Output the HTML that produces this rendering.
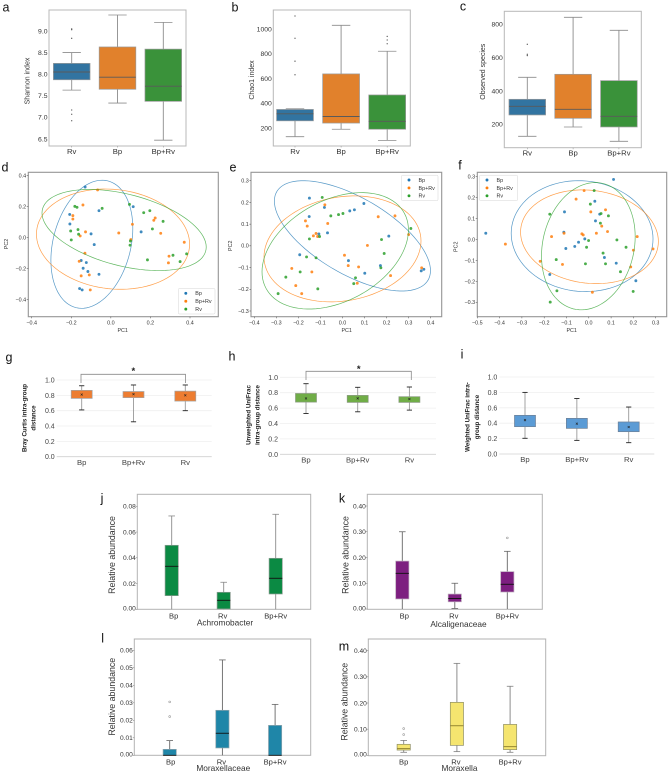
<!DOCTYPE html>
<html lang="en">
<head>
<meta charset="utf-8">
<title>Microbiome diversity figure</title>
<style>
html,body{margin:0;padding:0;background:#fff;}
#figure{display:block;width:669px;height:773px;font-family:"Liberation Sans",sans-serif;filter:blur(0.3px);}
</style>
</head>
<body>
<svg id="figure" xmlns="http://www.w3.org/2000/svg" width="669" height="773" viewBox="0 0 669 773"></svg>
<script>
/* ---------- shared categories ---------- */
var catsRvFirst = ['Rv','Bp','Bp+Rv'];
var catsBpFirst = ['Bp','Bp+Rv','Rv'];
var catsTaxa = ['Bp','Rv','Bp+Rv'];
var legendGroupsDE = ['Bp','Bp+Rv','Rv'];

/* ---------- a: Shannon ---------- */
var aTicks = [6.5,7.0,7.5,8.0,8.5,9.0];
var aLow = [7.63,7.33,6.47];
var aQ1 = [7.87,7.65,7.37];
var aMed = [8.05,7.93,7.72];
var aQ3 = [8.25,8.63,8.58];
var aHigh = [8.50,9.37,9.20];
var aFliers = [[9.05,9.03,8.83,7.17,7.07,6.92],[],[]];

/* ---------- b: Chao1 ---------- */
var bTicks = [200,400,600,800,1000];
var bLow = [130,190,100];
var bQ1 = [258,240,190];
var bMed = [315,293,254];
var bQ3 = [350,637,467];
var bHigh = [355,1030,820];
var bFliers = [[1105,925,740,630],[],[940,911,881]];

/* ---------- c: Observed species ---------- */
var cTicks = [200,400,600,800];
var cLow = [128,184,98];
var cQ1 = [256,236,184];
var cMed = [308,290,248];
var cQ3 = [350,500,462];
var cHigh = [482,842,764];
var cFliers = [[680,620,612],[],[]];

/* ---------- d: PCoA ---------- */
var dXTicks = [-0.4,-0.2,0,0.2,0.4];
var dYTicks = [-0.4,-0.2,0,0.2,0.4];
var dBp = [[-0.13,0.327],[-0.06,0.174],[0.113,0.2],[-0.208,0.15],[-0.207,0.088],[-0.1,0.024],[-0.084,-0.045],[0.153,0.037],[-0.15,-0.148],[-0.124,-0.161],[-0.14,-0.198],[-0.116,-0.219],[-0.06,-0.237],[-0.158,-0.329],[-0.145,-0.338]];
var dBpRv = [[-0.067,0.308],[-0.141,0.211],[-0.192,0.142],[-0.192,0.12],[-0.128,0.037],[-0.155,0.011],[-0.131,-0.101],[-0.16,-0.153],[-0.109,-0.241],[-0.15,-0.247],[-0.104,-0.338],[0.04,0.03],[0.109,0.086],[0.101,-0.013],[0.224,0.127],[0.217,0.112],[0.252,0.028],[0.371,-0.03],[0.294,-0.12],[0.291,-0.163]];
var dRv = [[-0.182,0.202],[-0.171,0.196],[-0.044,0.189],[0.094,0.215],[0.166,0.161],[0.197,0.174],[0.264,0.105],[0.21,0.056],[-0.166,0.052],[-0.203,0.043],[-0.163,0.022],[-0.2,-0.015],[0.099,-0.022],[0.097,-0.049],[0.185,-0.144],[0.314,-0.114],[0.383,-0.105],[0.35,-0.155]];
var dEllipseBp = [-0.096,-0.043,0.207,0.414,0.25];
var dEllipseBpRv = [0.011,-0.01,0.387,0.324,-0.1];
var dEllipseRv = [0.067,0.049,0.415,0.262,-0.42];

/* ---------- e: PCoA ---------- */
var eXTicks = [-0.4,-0.3,-0.2,-0.1,0,0.1,0.2,0.3,0.4];
var eYTicks = [-0.3,-0.2,-0.1,0,0.1,0.2,0.3];
var eBp = [[-0.15,0.22],[-0.151,0.135],[-0.082,0.177],[0.033,0.161],[0.054,0.166],[0.097,0.195],[-0.107,0.055],[-0.068,0.06],[0.21,0.045],[-0.194,-0.041],[0.027,-0.068],[0.172,-0.091],[0.101,-0.126],[0.357,-0.115],[0.369,-0.108]];
var eBpRv = [[-0.08,0.189],[-0.168,0.115],[-0.16,0.091],[-0.067,0.103],[-0.12,0.057],[-0.132,0.046],[-0.113,0.043],[0.162,0.134],[0.238,0.138],[0.3,0.052],[0.113,0.002],[0.009,-0.043],[0.026,-0.091],[0.073,-0.097],[-0.23,-0.104],[-0.139,-0.12],[-0.212,-0.183],[-0.185,-0.22],[0.067,-0.172],[0.218,-0.137],[0.359,-0.101]];
var eRv = [[-0.092,0.223],[-0.053,0.138],[-0.018,0.144],[0.002,0.149],[0.31,0.08],[-0.15,0.032],[-0.104,0.043],[0.177,0.029],[0.189,-0.035],[-0.163,-0.051],[-0.12,-0.055],[0.174,-0.101],[-0.257,-0.144],[-0.192,-0.12],[0.059,-0.147],[0.051,-0.174],[-0.112,-0.198],[-0.292,-0.22]];
var eEllipseBp = [0.045,0.046,0.354,0.254,-0.63];
var eEllipseBpRv = [0,-0.014,0.356,0.244,0.15];
var eEllipseRv = [-0.033,-0.023,0.332,0.268,0.36];

/* ---------- f: PCoA ---------- */
var fXTicks = [-0.5,-0.4,-0.3,-0.2,-0.1,0,0.1,0.2,0.3];
var fYTicks = [-0.3,-0.2,-0.1,0,0.1,0.2,0.3];
var fBp = [[0.111,0.287],[0.027,0.183],[-0.109,0.132],[0.049,0.121],[0.03,0.089],[-0.462,0.03],[-0.112,0.035],[-0.018,0.003],[-0.046,-0.013],[-0.063,-0.033],[-0.103,-0.043],[0.07,-0.086],[0.123,-0.113],[-0.175,-0.167],[0.211,-0.197]];
var fBpRv = [[-0.021,0.234],[-0.057,0.193],[0.009,0.132],[0.075,0.142],[0.058,0.064],[-0.374,-0.022],[-0.167,0.014],[-0.111,0.03],[-0.031,0.027],[-0.025,0.022],[0.034,0.03],[0.084,0.038],[0.217,0.014],[0.2,-0.051],[0.288,-0.045],[0.188,-0.131],[-0.218,-0.104],[-0.118,-0.119],[0.016,-0.252]];
var fRv = [[0.024,0.234],[0.007,0.169],[0.055,0.124],[0.088,0.113],[-0.175,0.121],[0.052,0.078],[-0.001,-0.005],[-0.01,-0.037],[0.126,-0.002],[0.167,-0.037],[0.064,-0.065],[-0.146,-0.096],[-0.015,-0.116],[0.075,-0.116],[0.142,-0.154],[-0.143,-0.245],[-0.173,-0.299],[0.199,-0.248]];
var fEllipseBp = [-0.03,0.016,0.318,0.265,-0.05];
var fEllipseBpRv = [0.003,0.013,0.309,0.224,-0.1];
var fEllipseRv = [-0.002,-0.032,0.21,0.304,0.15];

/* ---------- g/h/i: intra-group distance ---------- */
var distTicks = [0,0.2,0.4,0.6,0.8,1.0];
var gLow = [0.61,0.455,0.60];
var gQ1 = [0.76,0.77,0.725];
var gMean = [0.81,0.815,0.80];
var gQ3 = [0.865,0.85,0.855];
var gHigh = [0.925,0.935,0.935];
var hLow = [0.53,0.552,0.574];
var hQ1 = [0.678,0.674,0.674];
var hMean = [0.725,0.726,0.717];
var hQ3 = [0.79,0.765,0.748];
var hHigh = [0.917,0.87,0.874];
var iLow = [0.204,0.177,0.147];
var iQ1 = [0.355,0.333,0.29];
var iMean = [0.44,0.394,0.35];
var iQ3 = [0.502,0.463,0.416];
var iHigh = [0.80,0.72,0.61];

/* ---------- j: Achromobacter ---------- */
var jTicks = [0,0.02,0.04,0.06,0.08];
var jLow = [0,0,0];
var jQ1 = [0.0106,0.0003,0.0119];
var jMed = [0.0334,0.007,0.0241];
var jQ3 = [0.0497,0.0132,0.0396];
var jHigh = [0.0725,0.021,0.0738];
var jFliers = [[],[],[]];

/* ---------- k: Alcaligenaceae ---------- */
var kTicks = [0,0.1,0.2,0.3,0.4];
var kLow = [0,0.002,0];
var kQ1 = [0.039,0.028,0.066];
var kMed = [0.1385,0.041,0.096];
var kQ3 = [0.186,0.058,0.145];
var kHigh = [0.30,0.10,0.224];
var kFliers = [[],[],[0.276]];

/* ---------- l: Moraxellaceae ---------- */
var lTicks = [0,0.01,0.02,0.03,0.04,0.05,0.06];
var lLow = [0,0,0];
var lQ1 = [0,0.0042,0];
var lMed = [0,0.0126,0];
var lQ3 = [0.0034,0.0257,0.0171];
var lHigh = [0.0084,0.0545,0.0291];
var lFliers = [[0.0305,0.0221],[],[]];

/* ---------- m: Moraxella ---------- */
var mTicks = [0,0.1,0.2,0.3,0.4];
var mLow = [0.0115,0.014,0.0115];
var mQ1 = [0.02,0.038,0.0217];
var mMed = [0.0255,0.113,0.033];
var mQ3 = [0.042,0.2025,0.118];
var mHigh = [0.057,0.3516,0.264];
var mFliers = [[0.079,0.102],[],[]];

/* ---------- helpers ---------- */
var SVGNS = 'http://www.w3.org/2000/svg';
var root = document.getElementById('figure');

function label(el, name, interactive) {
  
  
  return el;
}
function mk(parent, tag, attrs) {
  var el = document.createElementNS(SVGNS, tag);
  for (var k in attrs) { el.setAttribute(k, attrs[k]); }
  parent.appendChild(el);
  return el;
}
function group(name) {
  return label(mk(root, 'g', {}), name);
}
function line(p, name, x1, y1, x2, y2, stroke, w) {
  return label(mk(p, 'line', {x1:x1, y1:y1, x2:x2, y2:y2, stroke:stroke, 'stroke-width':w}), name);
}
function text(p, name, x, y, str, size, o) {
  o = o || {};
  var a = {x:x, y:y + size*0.35, 'font-size':size, fill:o.fill || '#333', 'text-anchor':o.anchor || 'middle'};
  if (o.weight) { a['font-weight'] = o.weight; }
  if (o.rotate) { a.transform = 'rotate(-90 ' + x + ' ' + y + ')'; }
  var t = label(mk(p, 'text', a), name);
  t.textContent = str;
  return t;
}
function linear(v0, p0, v1, p1) {
  return function (v) { return p0 + (v - v0) * (p1 - p0) / (v1 - v0); };
}
function slug(s) {
  return String(s).toLowerCase().replace(/\+/g, '-').replace(/[^a-z0-9-]+/g, '-');
}

/* ---------- seaborn boxplots a,b,c ---------- */
var seabornFill = ['#3274a1','#e1812c','#3a923a'];
function seabornPanel(id, c) {
  var g = group('panel-' + id);
  var y = linear(c.v0, c.p0, c.v1, c.p1);
  var x = function (i) { return c.firstCat + i * c.step; };
  label(mk(g, 'rect', {x:c.left, y:c.top, width:c.right - c.left, height:c.bottom - c.top, fill:'#fff', stroke:'#b8b8b8', 'stroke-width':1}), 'plot-frame');
  c.ticks.forEach(function (t) {
    text(g, 'y-tick-label', c.left - 1.5, y(t), c.fmt(t), 6.8);
    g.lastChild.setAttribute('text-anchor', 'end');
  });
  c.cats.forEach(function (cat, i) {
    var cx = x(i), hw = c.step * 0.4, n = slug(cat);
    line(g, 'whisker-' + n, cx, y(c.high[i]), cx, y(c.q3[i]), '#8c8c8c', 0.9);
    line(g, 'whisker-' + n, cx, y(c.q1[i]), cx, y(c.low[i]), '#8c8c8c', 0.9);
    line(g, 'cap-' + n, cx - hw/2, y(c.high[i]), cx + hw/2, y(c.high[i]), '#8c8c8c', 0.8);
    line(g, 'cap-' + n, cx - hw/2, y(c.low[i]), cx + hw/2, y(c.low[i]), '#8c8c8c', 0.8);
    label(mk(g, 'rect', {x:cx - hw, y:y(c.q3[i]), width:hw*2, height:y(c.q1[i]) - y(c.q3[i]), fill:seabornFill[i], stroke:'#9a9a9a', 'stroke-width':0.7}), 'box-' + n);
    line(g, 'median-' + n, cx - hw, y(c.med[i]), cx + hw, y(c.med[i]), '#5a5a5a', 0.9);
    c.fliers[i].forEach(function (v) {
      label(mk(g, 'circle', {cx:cx, cy:y(v), r:0.65, fill:'#555'}), 'outlier-' + n);
    });
    line(g, 'x-tick', cx, c.bottom, cx, c.bottom + 1.5, '#999', 0.6);
    text(g, 'x-tick-label-' + n, cx, c.labelY, cat, 7.7);
  });
  text(g, 'y-axis-title', c.titleX, c.titleY, c.title, 7, {rotate:true});
}

/* ---------- PCoA scatter d,e,f ---------- */
var groupColor = {Bp:'#1f77b4', 'Bp+Rv':'#ff7f0e', Rv:'#2ca02c'};
function ellipsePath(sx, sy, e) {
  var d = '', delta = Math.acos(e[4]);
  for (var k = 0; k <= 96; k++) {
    var t = k / 96 * 2 * Math.PI;
    var px = sx(e[0] + e[2] * Math.cos(t));
    var py = sy(e[1] + e[3] * Math.cos(t - delta));
    d += (k ? 'L' : 'M') + px.toFixed(2) + ' ' + py.toFixed(2);
  }
  return d + 'Z';
}
function scatterPanel(id, c) {
  var g = group('panel-' + id);
  var sx = linear(c.xv0, c.xp0, c.xv1, c.xp1);
  var sy = linear(c.yv0, c.yp0, c.yv1, c.yp1);
  label(mk(g, 'rect', {x:c.left, y:c.top, width:c.right - c.left, height:c.bottom - c.top, fill:'#fff', stroke:'#959595', 'stroke-width':1.1}), 'plot-frame');
  c.xTicks.forEach(function (t) {
    line(g, 'x-tick', sx(t), c.bottom, sx(t), c.bottom + 1.6, '#444', 0.5);
    text(g, 'x-tick-label', sx(t), c.bottom + 5.8, (t < 0 ? '\u2212' : '') + Math.abs(t).toFixed(1), 5.4);
  });
  c.yTicks.forEach(function (t) {
    line(g, 'y-tick', c.left - 1.6, sy(t), c.left, sy(t), '#444', 0.5);
    text(g, 'y-tick-label', c.left - 2.2, sy(t), (t < 0 ? '\u2212' : '') + Math.abs(t).toFixed(1), 5.4, {anchor:'end'});
  });
  text(g, 'x-axis-title', c.xTitle[0], c.xTitle[1], 'PC1', 5.4);
  text(g, 'y-axis-title', c.yTitle[0], c.yTitle[1], 'PC2', 5.4, {rotate:true});
  c.series.forEach(function (s) {
    var col = groupColor[s.name], n = slug(s.name);
    label(mk(g, 'path', {d:ellipsePath(sx, sy, s.ellipse), fill:'none', stroke:col, 'stroke-width':0.7, 'stroke-opacity':0.75}), 'ellipse-' + n);
    s.points.forEach(function (p) {
      label(mk(g, 'circle', {cx:sx(p[0]), cy:sy(p[1]), r:1.45, fill:col, 'fill-opacity':0.85}), 'point-' + n);
    });
  });
  var lg = label(mk(g, 'g', {}), 'legend');
  label(mk(lg, 'rect', {x:c.legend[0], y:c.legend[1], width:c.legend[2], height:c.legend[3], rx:1.2, fill:'#fff', 'fill-opacity':0.9, stroke:'#d5d5d5', 'stroke-width':0.5}), 'legend-frame');
  c.series.forEach(function (s, i) {
    var ey = c.legend[1] + 4.8 + i * 7.9, n = slug(s.name);
    label(mk(lg, 'circle', {cx:c.legend[0] + 7.5, cy:ey, r:1.45, fill:groupColor[s.name]}), 'legend-marker-' + n);
    text(lg, 'legend-entry-' + n, c.legend[0] + 17, ey, s.name, 5.4, {anchor:'start'});
  });
}

/* ---------- Excel style box charts g,h,i ---------- */
function excelPanel(id, c) {
  var g = group('panel-' + id);
  var y = linear(0, c.zero, 1, c.one);
  var x = function (i) { return c.firstCat + i * c.step; };
  c.ticks.forEach(function (t) {
    line(g, t === 0 ? 'x-axis-line' : 'gridline', c.left, y(t), c.right, y(t), t === 0 ? '#d0d0d0' : '#efefef', 0.8);
    text(g, 'y-tick-label', c.left - 2, y(t), t.toFixed(1), 7, {anchor:'end', fill:'#444'});
  });
  c.cats.forEach(function (cat, i) {
    var cx = x(i), hw = 10.5, n = slug(cat);
    line(g, 'whisker-' + n, cx, y(c.high[i]), cx, y(c.low[i]), '#999', 0.9);
    line(g, 'cap-' + n, cx - 2.6, y(c.high[i]), cx + 2.6, y(c.high[i]), '#222', 0.9);
    line(g, 'cap-' + n, cx - 2.6, y(c.low[i]), cx + 2.6, y(c.low[i]), '#222', 0.9);
    label(mk(g, 'rect', {x:cx - hw, y:y(c.q3[i]), width:hw*2, height:y(c.q1[i]) - y(c.q3[i]), fill:c.fill, stroke:c.edge, 'stroke-width':0.7}), 'box-' + n);
    var my = y(c.mean[i]);
    line(g, 'mean-marker-' + n, cx - 1, my - 1, cx + 1, my + 1, '#222', 0.6);
    line(g, 'mean-marker-' + n, cx - 1, my + 1, cx + 1, my - 1, '#222', 0.6);
    text(g, 'x-tick-label-' + n, cx, c.labelY, cat, 7.7, {fill:'#444'});
  });
  c.title.forEach(function (s, i) {
    text(g, 'y-axis-title', c.titleX[i], c.titleY, s, 6.2, {rotate:true, weight:'bold', fill:'#222'});
  });
  if (c.bracket) {
    var b = c.bracket;
    label(mk(g, 'path', {d:'M' + b[0] + ' ' + b[3] + 'V' + b[2] + 'H' + b[1] + 'V' + b[3], fill:'none', stroke:'#8a8a8a', 'stroke-width':0.8}), 'significance-bracket');
    text(g, 'significance-star', b[4], b[5], '*', 9.5, {fill:'#222', weight:'bold'});
  }
}

/* ---------- SPSS style box charts j,k,l,m ---------- */
function taxaPanel(id, c) {
  var g = group('panel-' + id);
  var y = linear(c.v0, c.p0, c.v1, c.p1);
  var x = function (i) { return c.firstCat + i * c.step; };
  label(mk(g, 'rect', {x:c.left, y:c.top, width:c.right - c.left, height:c.bottom - c.top, fill:'#fff', stroke:'#b2b2b2', 'stroke-width':1}), 'plot-frame');
  c.ticks.forEach(function (t) {
    line(g, 'y-tick', c.left - 1.5, y(t), c.left, y(t), '#777', 0.5);
    text(g, 'y-tick-label', c.left - 1.5, y(t) - (t === 0 ? 1 : 0), t.toFixed(2), 6.6, {anchor:'end', fill:'#333'});
  });
  c.cats.forEach(function (cat, i) {
    var cx = x(i), hw = 6.6, n = slug(cat);
    line(g, 'whisker-' + n, cx, y(c.high[i]), cx, y(c.low[i]), c.whisker, 0.9);
    line(g, 'cap-' + n, cx - 3.3, y(c.high[i]), cx + 3.3, y(c.high[i]), c.whisker, 0.8);
    if (c.low[i] > 0) { line(g, 'cap-' + n, cx - 3.3, y(c.low[i]), cx + 3.3, y(c.low[i]), c.whisker, 0.8); }
    label(mk(g, 'rect', {x:cx - hw, y:y(c.q3[i]), width:hw*2, height:y(c.q1[i]) - y(c.q3[i]), fill:c.fill, stroke:c.edge, 'stroke-width':0.7}), 'box-' + n);
    line(g, 'median-' + n, cx - hw, y(c.med[i]), cx + hw, y(c.med[i]), c.median, 0.9);
    c.fliers[i].forEach(function (v) {
      label(mk(g, 'circle', {cx:cx, cy:y(v), r:0.95, fill:'#fff', stroke:'#8a8a8a', 'stroke-width':0.55}), 'outlier-' + n);
    });
    text(g, 'x-tick-label-' + n, cx + c.labelShift[i], c.labelY, cat, 7.6);
  });
  text(g, 'x-axis-title', c.xTitle[0], c.xTitle[1], c.xName, 8.3);
  text(g, 'y-axis-title', c.titleX, c.titleY, 'Relative abundance', 8.8, {rotate:true});
}

/* ---------- build panels ---------- */
seabornPanel('a', {left:49, right:186, top:10, bottom:146, v0:7, p0:117.3, v1:9, p1:31, firstCat:71.7, step:45.8,
  cats:catsRvFirst, ticks:aTicks, low:aLow, q1:aQ1, med:aMed, q3:aQ3, high:aHigh, fliers:aFliers,
  fmt:function(t){return t.toFixed(1);}, labelY:151.5, title:'Shannon index', titleX:27.3, titleY:81});
seabornPanel('b', {left:273.3, right:410.3, top:10, bottom:146, v0:200, p0:128, v1:1000, p1:29, firstCat:295, step:46.1,
  cats:catsRvFirst, ticks:bTicks, low:bLow, q1:bQ1, med:bMed, q3:bQ3, high:bHigh, fliers:bFliers,
  fmt:function(t){return String(t);}, labelY:151.5, title:'Chao1 index', titleX:251.7, titleY:80});
seabornPanel('c', {left:504.3, right:641.3, top:11.3, bottom:147.7, v0:200, p0:124.3, v1:800, p1:24.3, firstCat:527.3, step:45.8,
  cats:catsRvFirst, ticks:cTicks, low:cLow, q1:cQ1, med:cMed, q3:cQ3, high:cHigh, fliers:cFliers,
  fmt:function(t){return String(t);}, labelY:152.8, title:'Observed species', titleX:482.7, titleY:71.7});

scatterPanel('d', {left:28.3, right:218.3, top:172.3, bottom:316.7,
  xv0:-0.4, xp0:31.7, xv1:0.4, xp1:190, yv0:-0.4, yp0:299.5, yv1:0.4, yp1:175.7,
  xTicks:dXTicks, yTicks:dYTicks, xTitle:[122.7,330], yTitle:[6,244], legend:[178.3,288.5,36.7,25.5],
  series:[{name:'Bp',points:dBp,ellipse:dEllipseBp},{name:'Bp+Rv',points:dBpRv,ellipse:dEllipseBpRv},{name:'Rv',points:dRv,ellipse:dEllipseRv}]});
scatterPanel('e', {left:251, right:441.7, top:172.3, bottom:316.7,
  xv0:-0.4, xp0:254.3, xv1:0.4, xp1:430.7, yv0:-0.3, yp0:311, yv1:0.3, yp1:180.7,
  xTicks:eXTicks, yTicks:eYTicks, xTitle:[346.7,330], yTitle:[230,245.7], legend:[401.5,175.2,36.5,25.5],
  series:[{name:'Bp',points:eBp,ellipse:eEllipseBp},{name:'Bp+Rv',points:eBpRv,ellipse:eEllipseBpRv},{name:'Rv',points:eRv,ellipse:eEllipseRv}]});
scatterPanel('f', {left:477.3, right:666.7, top:172.3, bottom:316.7,
  xv0:-0.5, xp0:477.3, xv1:0.3, xp1:655.7, yv0:-0.3, yp0:302.3, yv1:0.3, yp1:176.7,
  xTicks:fXTicks, yTicks:fYTicks, xTitle:[571.7,330], yTitle:[455.7,246.7], legend:[479.5,175.2,38,25.5],
  series:[{name:'Bp',points:fBp,ellipse:fEllipseBp},{name:'Bp+Rv',points:fBpRv,ellipse:fEllipseBpRv},{name:'Rv',points:fRv,ellipse:fEllipseRv}]});

excelPanel('g', {left:56.7, right:211.7, zero:456.7, one:380, firstCat:81.7, step:51.8, cats:catsBpFirst, ticks:distTicks,
  low:gLow, q1:gQ1, mean:gMean, q3:gQ3, high:gHigh, fill:'#ed7d31', edge:'#a5a5a5', labelY:462.5,
  title:['Bray Curtis intra-group','distance'], titleX:[24.5,33.5], titleY:418,
  bracket:[81,185.5,374.3,383,133.3,370.5]});
excelPanel('h', {left:280, right:436, zero:454.3, one:377.3, firstCat:306, step:51.7, cats:catsBpFirst, ticks:distTicks,
  low:hLow, q1:hQ1, mean:hMean, q3:hQ3, high:hHigh, fill:'#70ad47', edge:'#8a9a80', labelY:460,
  title:['Unweighted UniFrac','intra-group distance'], titleX:[248.5,257.5], titleY:415,
  bracket:[306,411.3,371.3,380,358.7,368.5]});
excelPanel('i', {left:499.3, right:654.3, zero:454, one:377, firstCat:525, step:51.85, cats:catsBpFirst, ticks:distTicks,
  low:iLow, q1:iQ1, mean:iMean, q3:iQ3, high:iHigh, fill:'#5b9bd5', edge:'#6f8196', labelY:459.5,
  title:['Weighted UniFrac intra-','group distance'], titleX:[467.3,477], titleY:417});

taxaPanel('j', {left:137.3, right:310.7, top:494.3, bottom:609.3, v0:0, p0:609.3, v1:0.08, p1:506.3, firstCat:171.7, step:52,
  cats:catsTaxa, ticks:jTicks, low:jLow, q1:jQ1, med:jMed, q3:jQ3, high:jHigh, fliers:jFliers,
  fill:'#0b8a43', edge:'#8a9a90', whisker:'#8a8a8a', median:'#111', labelY:616, labelShift:[2,-1,0],
  xName:'Achromobacter', xTitle:[225,622.8], titleX:111.7, titleY:555});
taxaPanel('k', {left:367.3, right:542.3, top:494.3, bottom:609.3, v0:0, p0:609, v1:0.4, p1:506, firstCat:402.3, step:52.5,
  cats:catsTaxa, ticks:kTicks, low:kLow, q1:kQ1, med:kMed, q3:kQ3, high:kHigh, fliers:kFliers,
  fill:'#7d1f80', edge:'#b9a6ba', whisker:'#666', median:'#111', labelY:616, labelShift:[2,-1,0],
  xName:'Alcaligenaceae', xTitle:[458.5,624], titleX:345.5, titleY:555});
taxaPanel('l', {left:134.3, right:310.7, top:639, bottom:755.3, v0:0, p0:755.3, v1:0.06, p1:650.3, firstCat:169.7, step:52.7,
  cats:catsTaxa, ticks:lTicks, low:lLow, q1:lQ1, med:lMed, q3:lQ3, high:lHigh, fliers:lFliers,
  fill:'#1f86a8', edge:'#8ea4ad', whisker:'#666', median:'#111', labelY:761.7, labelShift:[1,-1,0],
  xName:'Moraxellaceae', xTitle:[223.3,768.3], titleX:111.7, titleY:696.7});
taxaPanel('m', {left:368.3, right:545.7, top:639, bottom:755.7, v0:0, p0:755.3, v1:0.4, p1:650.7, firstCat:403.7, step:53.2,
  cats:catsTaxa, ticks:mTicks, low:mLow, q1:mQ1, med:mMed, q3:mQ3, high:mHigh, fliers:mFliers,
  fill:'#f5e56f', edge:'#8f8f66', whisker:'#808080', median:'#8a7c2a', labelY:761.7, labelShift:[0,-1,0],
  xName:'Moraxella', xTitle:[459.5,768.3], titleX:344.5, titleY:701.7});

/* ---------- panel letters ---------- */
var panelLetters = ['a','b','c','d','e','f','g','h','i','j','k','l','m'];
var letterSpots = {a:[6,7],b:[235,7],c:[463,6],d:[5,167],e:[233,167],f:[460,165],g:[9,357],h:[232,356],i:[462,354],j:[102,498],k:[342,498],l:[102.7,638],m:[344,646]};
var letterLayer = group('panel-letters');
panelLetters.forEach(function (s) {
  text(letterLayer, 'panel-label-' + s, letterSpots[s][0], letterSpots[s][1], s, 12.5, {fill:'#111'});
});
</script>
</body>
</html>
